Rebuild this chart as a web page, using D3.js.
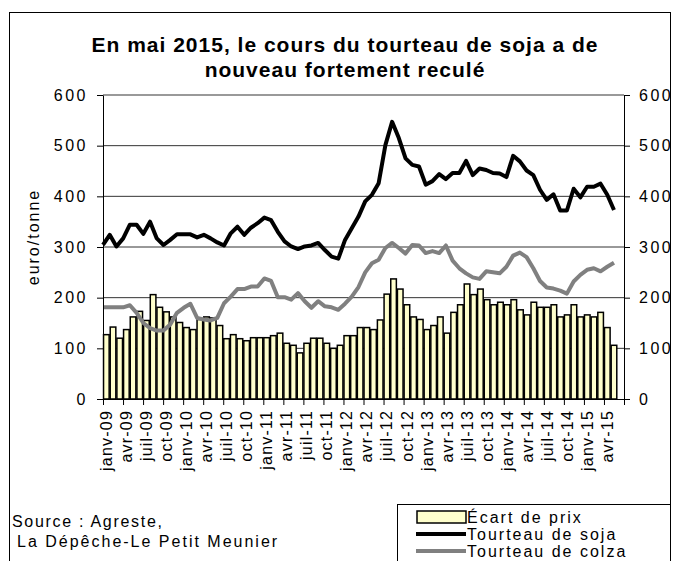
<!DOCTYPE html>
<html>
<head>
<meta charset="utf-8">
<script src="https://cdnjs.cloudflare.com/ajax/libs/d3/7.8.5/d3.min.js"></script>
<style>
body { margin: 0; background: #fff; }
text { font-family: "Liberation Sans", Arial, sans-serif; fill: #000; }
</style>
</head>
<body>
<div id="chart"></div>
<script>
// data
const categories = [
  "janv-09","févr-09","mars-09","avr-09","mai-09","juin-09","juil-09","août-09","sept-09","oct-09","nov-09","déc-09",
  "janv-10","févr-10","mars-10","avr-10","mai-10","juin-10","juil-10","août-10","sept-10","oct-10","nov-10","déc-10",
  "janv-11","févr-11","mars-11","avr-11","mai-11","juin-11","juil-11","août-11","sept-11","oct-11","nov-11","déc-11",
  "janv-12","févr-12","mars-12","avr-12","mai-12","juin-12","juil-12","août-12","sept-12","oct-12","nov-12","déc-12",
  "janv-13","févr-13","mars-13","avr-13","mai-13","juin-13","juil-13","août-13","sept-13","oct-13","nov-13","déc-13",
  "janv-14","févr-14","mars-14","avr-14","mai-14","juin-14","juil-14","août-14","sept-14","oct-14","nov-14","déc-14",
  "janv-15","févr-15","mars-15","avr-15","mai-15","juin-15"
]
const tickLabels = [
  "janv-09","avr-09","juil-09","oct-09","janv-10","avr-10","juil-10","oct-10",
  "janv-11","avr-11","juil-11","oct-11","janv-12","avr-12","juil-12","oct-12",
  "janv-13","avr-13","juil-13","oct-13","janv-14","avr-14","juil-14","oct-14",
  "janv-15","avr-15"
]
const yTicks = [0, 100, 200, 300, 400, 500, 600]

// écart de prix (bars)
const ecart = [
  127, 142, 120, 137, 162, 173, 155, 206, 181, 172, 162, 151,
  141, 137, 157, 162, 160, 145, 119, 127, 119, 115, 121, 121,
  121, 125, 130, 110, 106, 91, 110, 120, 120, 110, 100, 106,
  125, 125, 141, 141, 137, 156, 207, 237, 217, 186, 162, 157,
  137, 145, 162, 130, 171, 186, 227, 206, 217, 196, 186, 191,
  186, 196, 176, 166, 191, 181, 181, 186, 162, 166, 186, 162,
  166, 162, 171, 141, 106
]
// tourteau de soja
const soja = [
  304, 324, 301, 317, 344, 344, 326, 350, 317, 304, 314, 325,
  325, 325, 319, 324, 317, 309, 303, 327, 340, 324, 338, 347,
  358, 353, 330, 311, 301, 296, 301, 303, 308, 294, 281, 277,
  314, 337, 360, 390, 403, 426, 501, 547, 515, 475, 462, 459,
  423, 430, 444, 434, 446, 446, 470, 442, 455, 452, 446, 445,
  438, 480, 469, 451, 442, 413, 393, 404, 372, 372, 415, 398,
  419, 419, 425, 403, 373
]
// tourteau de colza
const colza = [
  181, 181, 181, 181, 185, 170, 150, 140, 135, 135, 147, 170,
  180, 188, 160, 157, 155, 160, 189, 202, 217, 217, 222, 222,
  238, 233, 201, 201, 196, 209, 193, 180, 193, 183, 181, 176,
  188, 202, 221, 250, 268, 275, 298, 308, 298, 287, 304, 303,
  288, 292, 288, 303, 273, 258, 248, 240, 237, 252, 250, 248,
  261, 283, 289, 280, 258, 233, 220, 218, 214, 208, 232, 245,
  255, 258, 252, 261, 269
]

// const
const width = 679
const height = 561
const margin = {top: 95, right: 55, bottom: 162, left: 103}
const w = width - margin.left - margin.right
const h = height - margin.top - margin.bottom

// svg
const svg = d3.select("#chart")
  .append("svg")
    .attr("width", width)
    .attr("height", height)

svg.append("rect")
  .attr("x", 9.5).attr("y", 12.5)
  .attr("width", 661).attr("height", 560)
  .attr("fill", "none").attr("stroke", "#000")

// title
const title = svg.append("text")
  .attr("x", 345).attr("text-anchor", "middle")
  .attr("font-size", 21).attr("font-weight", "bold")
  .attr("letter-spacing", 1)
title.append("tspan").attr("x", 345).attr("y", 52).text("En mai 2015, le cours du tourteau de soja a de")
title.append("tspan").attr("x", 345).attr("y", 77).text("nouveau fortement reculé")

const g = svg.append("g")
  .attr("transform", `translate(${margin.left},${margin.top})`)

// scales
const x = d3.scaleBand()
  .domain(categories)
  .range([0, w])
  .paddingInner(0.16)
  .paddingOuter(0.08)

const xIndex = d3.scaleLinear()
  .domain([0, categories.length])
  .range([0, w])

const xLine = d3.scalePoint()
  .domain(categories.slice(0, soja.length))
  .range([0, x.step() * (soja.length - 0.5)])

const y = d3.scaleLinear()
  .domain([0, 600])
  .range([h, 0])

// grid
g.append("g")
  .selectAll("line")
  .data(yTicks.filter(d => d > 0 && d < 600))
  .join("line")
    .attr("x1", 0).attr("x2", w)
    .attr("y1", d => y(d)).attr("y2", d => y(d))
    .attr("stroke", "#333").attr("stroke-width", 1)

g.append("line")
  .attr("x1", 0).attr("x2", w)
  .attr("y1", y(600)).attr("y2", y(600))
  .attr("stroke", "#999").attr("stroke-width", 2)

// bars
g.append("g")
  .selectAll("rect")
  .data(ecart)
  .join("rect")
    .attr("x", (d, i) => x(categories[i]))
    .attr("y", d => y(d))
    .attr("width", x.bandwidth())
    .attr("height", d => h - y(d))
    .attr("fill", "#FFFFCC")
    .attr("stroke", "#000")
    .attr("stroke-width", 1.5)

// lines
const line = d3.line()
  .x((d, i) => xLine(categories[i]))
  .y(d => y(d))

g.append("path")
  .datum(colza)
  .attr("d", line)
  .attr("fill", "none")
  .attr("stroke", "#808080")
  .attr("stroke-width", 4)
  .attr("stroke-linejoin", "round")

g.append("path")
  .datum(soja)
  .attr("d", line)
  .attr("fill", "none")
  .attr("stroke", "#000")
  .attr("stroke-width", 4)
  .attr("stroke-linejoin", "round")

// axes
const yAxisLeft = g.append("g")
  .call(d3.axisLeft(y).tickValues(yTicks).tickSize(6).tickPadding(9).tickSizeOuter(0))
const yAxisRight = g.append("g")
  .attr("transform", `translate(${w},0)`)
  .call(d3.axisRight(y).tickValues(yTicks).tickSize(6).tickPadding(9).tickSizeOuter(0))

const xTicks = g.append("g")
  .attr("transform", `translate(0,${h})`)
  .call(d3.axisBottom(xIndex).tickValues(d3.range(0, categories.length + 1, 3)).tickSize(6).tickFormat("").tickSizeOuter(0))

const xLabels = g.append("g")
  .attr("transform", `translate(0,${h})`)
  .call(d3.axisBottom(x).tickValues(tickLabels).tickSize(0))
xLabels.select(".domain").remove()
xLabels.selectAll("text")
  .attr("transform", "rotate(-90)")
  .attr("x", -11)
  .attr("y", 0)
  .attr("dy", "0.35em")
  .attr("text-anchor", "end")
  .attr("letter-spacing", 1.2)

g.selectAll(".domain, .tick line").attr("stroke", "#000")
g.selectAll(".tick text")
  .attr("font-family", "Liberation Sans, Arial, sans-serif")
  .attr("font-size", 16)
yAxisLeft.selectAll("text").attr("letter-spacing", 2.5)
yAxisRight.selectAll("text").attr("letter-spacing", 2.5)

// y axis label
svg.append("text")
  .attr("transform", "translate(39,237) rotate(-90)")
  .attr("text-anchor", "middle")
  .attr("font-size", 16)
  .attr("letter-spacing", 2)
  .text("euro/tonne")

// source
svg.append("text").attr("x", 12).attr("y", 527)
  .attr("font-size", 16).attr("letter-spacing", 1.7)
  .text("Source : Agreste,")
svg.append("text").attr("x", 17).attr("y", 547)
  .attr("font-size", 16).attr("letter-spacing", 2)
  .text("La Dépêche-Le Petit Meunier")

// legend
const legend = svg.append("g")
legend.append("rect")
  .attr("x", 397.5).attr("y", 504.5)
  .attr("width", 273).attr("height", 70)
  .attr("fill", "#fff").attr("stroke", "#000")

const legendItems = [
  {label: "Écart de prix", type: "bar", color: "#FFFFCC"},
  {label: "Tourteau de soja", type: "line", color: "#000"},
  {label: "Tourteau de colza", type: "line", color: "#808080"}
]
legendItems.forEach((d, i) => {
  const cy = 517 + i * 17
  if (d.type === "bar") {
    legend.append("rect")
      .attr("x", 417).attr("y", cy - 6)
      .attr("width", 49).attr("height", 12)
      .attr("fill", d.color).attr("stroke", "#000").attr("stroke-width", 1.5)
  } else {
    legend.append("line")
      .attr("x1", 416).attr("x2", 466)
      .attr("y1", cy).attr("y2", cy)
      .attr("stroke", d.color).attr("stroke-width", 4)
  }
  legend.append("text")
    .attr("x", 467).attr("y", cy + 6)
    .attr("font-size", 16).attr("letter-spacing", 2)
    .text(d.label)
})
</script>
</body>
</html>
